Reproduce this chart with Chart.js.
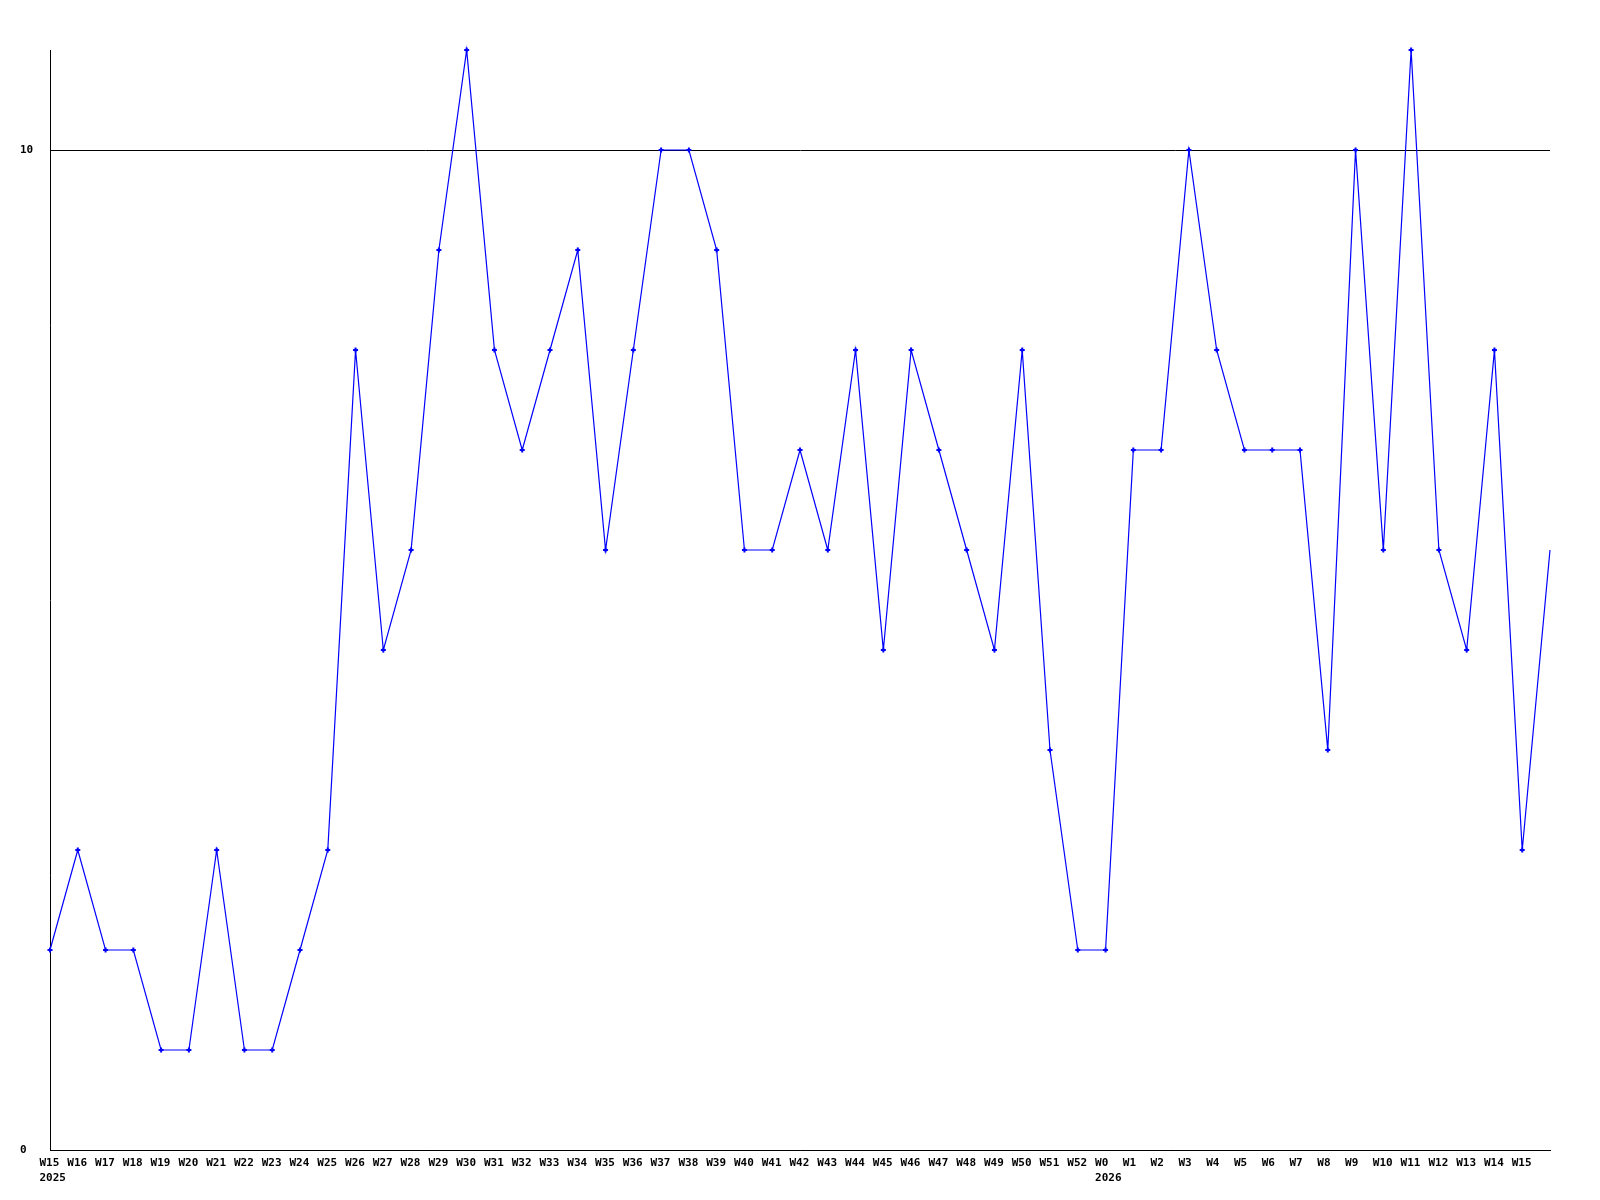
<!DOCTYPE html>
<html>
<head>
<meta charset="utf-8">
<title>Chart</title>
<script src="https://cdn.jsdelivr.net/npm/chart.js@4.4.0/dist/chart.umd.min.js"></script>
<style>
  body { margin: 0; background: #fff; }
  canvas { display: block; }
</style>
</head>
<body>
<canvas id="graph" width="1600" height="1200"></canvas>
<script>
//---------dados

var weeks = ['W15', 'W16', 'W17', 'W18', 'W19', 'W20', 'W21', 'W22', 'W23', 'W24',
  'W25', 'W26', 'W27', 'W28', 'W29', 'W30', 'W31', 'W32', 'W33', 'W34',
  'W35', 'W36', 'W37', 'W38', 'W39', 'W40', 'W41', 'W42', 'W43', 'W44',
  'W45', 'W46', 'W47', 'W48', 'W49', 'W50', 'W51', 'W52', 'W0', 'W1',
  'W2', 'W3', 'W4', 'W5', 'W6', 'W7', 'W8', 'W9', 'W10', 'W11',
  'W12', 'W13', 'W14', 'W15', ''];

// ano mostrado embaixo da semana (indice -> ano)
var years = { 0: '2025', 38: '2026' };

var counts = [2, 3, 2, 2, 1, 1, 3, 1, 1, 2,
  3, 8, 5, 6, 9, 11, 8, 7, 8, 9,
  6, 8, 10, 10, 9, 6, 6, 7, 6, 8,
  5, 8, 7, 6, 5, 8, 4, 2, 2, 7,
  7, 10, 8, 7, 7, 7, 4, 10, 6, 11,
  6, 5, 8, 3, 6];

var yTicks = [0, 10];

var labels = weeks.map(function (w, i) {
  return years[i] ? [w, years[i]] : w;
});

// o ultimo ponto nao tem marcador
var radius = counts.map(function (v, i) {
  return i === counts.length - 1 ? 0 : 2.5;
});

var font = { family: 'DejaVu Sans Mono', size: 11, weight: 'bold', lineHeight: 15 / 11 };

new Chart(document.getElementById('graph'), {
  type: 'line',
  data: {
    labels: labels,
    datasets: [{
      data: counts,
      borderColor: '#0000ff',
      backgroundColor: '#0000ff',
      borderWidth: 1.2,
      tension: 0,
      clip: false,
      pointStyle: 'cross',
      pointRadius: radius,
      pointHoverRadius: radius,
      pointBorderWidth: 2,
      pointBorderColor: '#0000ff'
    }]
  },
  options: {
    responsive: false,
    animation: false,
    events: [],
    layout: {
      padding: { left: 20, right: 50, top: 50, bottom: 0 }
    },
    plugins: {
      legend: { display: false },
      tooltip: { enabled: false }
    },
    scales: {
      x: {
        type: 'category',
        offset: false,
        grid: { display: false, drawTicks: false },
        border: { display: true, color: '#000', width: 1 },
        ticks: {
          color: '#000',
          font: font,
          align: 'start',
          labelOffset: -10.5,
          padding: 6,
          autoSkip: false,
          maxRotation: 0,
          minRotation: 0
        },
        afterFit: function (axis) {
          axis.height = 50;
        }
      },
      y: {
        min: 0,
        max: 11,
        afterBuildTicks: function (axis) {
          axis.ticks = yTicks.map(function (v) { return { value: v }; });
        },
        grid: {
          color: '#000',
          lineWidth: 1,
          drawTicks: false
        },
        border: { display: true, color: '#000', width: 1 },
        ticks: {
          color: '#000',
          font: font,
          crossAlign: 'far',
          padding: 0
        },
        afterFit: function (axis) {
          axis.width = 30;
        }
      }
    }
  }
});
</script>
</body>
</html>
